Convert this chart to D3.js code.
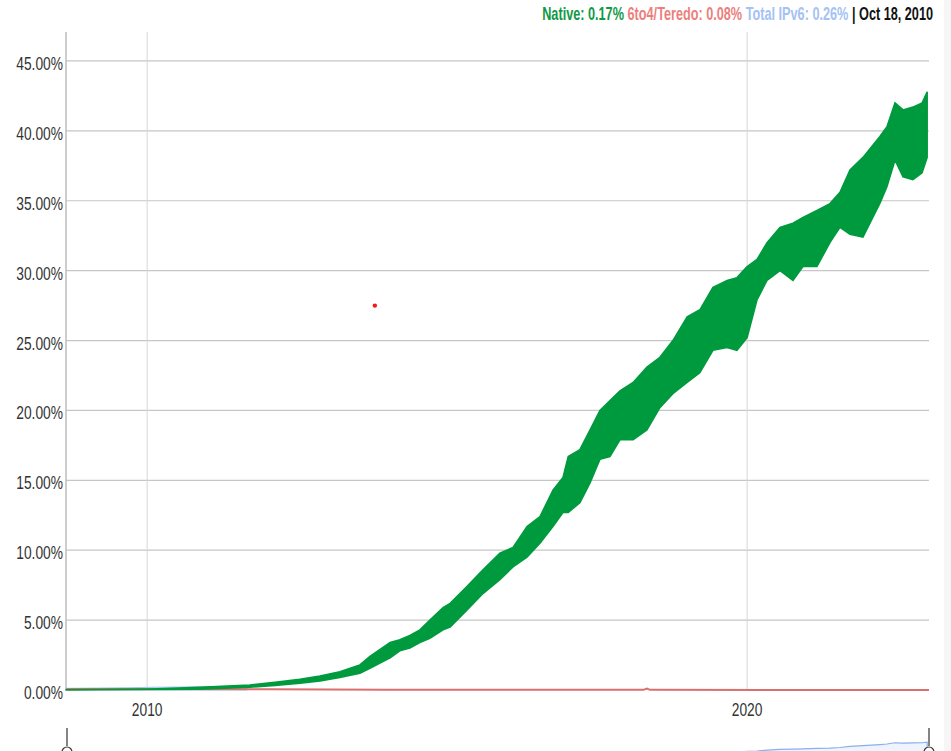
<!DOCTYPE html>
<html lang="en">

<head>
    <meta charset="UTF-8">
    <title>IPv6 adoption</title>
    <script src="https://d3js.org/d3.v7.min.js"></script>
    <style>
        body { margin: 0; background: #fff; }
        text { font-family: "Liberation Sans", Arial, sans-serif; }
    </style>
</head>

<body>
    <script>
        // native IPv6 share, min/max band of the daily values (percent)
        var dates = ["2008-08-26", "2009-03-19", "2010-01-19", "2010-11-18", "2011-09-18", "2012-02-18",
            "2012-07-19", "2012-11-18", "2013-03-19", "2013-07-19", "2013-09-18", "2014-01-19",
            "2014-03-19", "2014-05-19", "2014-07-19", "2014-09-18", "2014-12-07", "2015-01-19",
            "2015-05-01", "2015-08-07", "2015-11-18", "2016-02-06", "2016-05-01", "2016-07-19",
            "2016-10-06", "2016-12-06", "2017-01-07", "2017-03-19", "2017-05-19", "2017-07-19",
            "2017-09-18", "2017-11-18", "2018-02-06", "2018-05-01", "2018-07-19", "2018-10-06",
            "2019-01-01", "2019-03-19", "2019-06-07", "2019-09-01", "2019-10-31", "2020-01-01",
            "2020-03-01", "2020-05-01", "2020-07-19", "2020-10-06", "2020-12-06", "2021-03-01",
            "2021-05-19", "2021-07-19", "2021-09-18", "2021-12-06", "2022-03-19", "2022-05-01",
            "2022-06-19", "2022-08-07", "2022-10-06", "2022-12-01", "2023-01-01"]
        var nativeLow = [0.00, 0.01, 0.03, 0.05, 0.20, 0.32,
            0.48, 0.65, 0.90, 1.20, 1.55, 2.30,
            2.80, 3.00, 3.40, 3.70, 4.30, 4.50,
            5.70, 6.90, 7.90, 8.80, 9.50, 10.5,
            11.7, 12.7, 12.7, 13.4, 14.8, 16.5,
            16.7, 17.9, 17.9, 18.6, 20.2, 21.2,
            22.0, 22.7, 24.3, 24.5, 24.3, 25.2,
            27.9, 29.3, 30.0, 29.3, 30.3, 30.3,
            32.0, 33.1, 32.6, 32.4, 34.8, 36.0,
            37.9, 36.7, 36.5, 37.0, 38.1]
        var nativeHigh = [0.02, 0.03, 0.08, 0.20, 0.36, 0.55,
            0.77, 1.00, 1.30, 1.80, 2.40, 3.40,
            3.60, 3.90, 4.30, 5.00, 5.90, 6.20,
            7.40, 8.60, 9.80, 10.2, 11.7, 12.4,
            14.3, 15.2, 16.7, 17.2, 18.6, 20.0,
            20.7, 21.4, 22.0, 23.1, 23.8, 25.0,
            26.7, 27.2, 28.8, 29.3, 29.5, 30.3,
            30.8, 32.0, 33.1, 33.4, 33.8, 34.3,
            34.8, 35.6, 37.2, 38.1, 39.6, 40.3,
            42.0, 41.5, 41.7, 42.0, 42.8]

        // total IPv6, only visible above the green in the first years
        var totalDates = ["2008-08-26", "2009-03-01", "2009-09-01", "2010-03-01", "2010-09-01", "2011-03-01", "2011-09-01"]
        var totalHigh = [0.12, 0.14, 0.16, 0.2, 0.22, 0.25, 0.3]

        // 6to4/Teredo share
        var teredoDates = ["2008-08-26", "2010-01-01", "2012-01-01", "2014-01-01", "2018-04-10", "2018-05-01", "2018-05-20", "2023-01-12"]
        var teredoValues = [0.08, 0.08, 0.06, 0.02, 0.01, 0.1, 0.01, 0.0]
        var outlierDate = "2013-10-18", outlierValue = 27.5

        var yTicks = [0, 5, 10, 15, 20, 25, 30, 35, 40, 45]
        var xTicks = ["2010-01-01", "2020-01-01"]

        var headParts = ["Native: 0.17%", "6to4/Teredo: 0.08%", "Total IPv6: 0.26%", "| Oct 18, 2010"]
        var headColors = ["#0f9a45", "#ec7f7d", "#a4c2f4", "#111"]

        var W = 951, H = 751
        var m = { left: 66, right: 929, top: 33, bottom: 690 }
        var squeeze = 0.725

        var parseD = d3.timeParse("%Y-%m-%d")

        var svg = d3.select("body").append("svg")
            .attr("width", W)
            .attr("height", H)

        var x = d3.scaleTime()
            .domain([new Date(2008, 7, 25), new Date(2023, 0, 12)])
            .range([m.left, m.right])
        var y = d3.scaleLinear()
            .domain([0, 47])
            .range([m.bottom, m.top])

        // grid
        svg.append("g").selectAll("line")
            .data(yTicks.slice(1))
            .enter().append("line")
            .attr("x1", m.left).attr("x2", m.right)
            .attr("y1", d => y(d)).attr("y2", d => y(d))
            .attr("stroke", "#c6c6c6").attr("stroke-width", 1.2)
        svg.append("g").selectAll("line")
            .data(xTicks)
            .enter().append("line")
            .attr("x1", d => x(parseD(d))).attr("x2", d => x(parseD(d)))
            .attr("y1", m.top - 1).attr("y2", m.bottom)
            .attr("stroke", "#d6d6d6").attr("stroke-width", 1)
        svg.append("line")
            .attr("x1", m.left).attr("x2", m.left)
            .attr("y1", m.top - 1).attr("y2", m.bottom)
            .attr("stroke", "#bdbdbd").attr("stroke-width", 1.5)

        // series
        var nativeData = dates.map((d, i) => ({ date: parseD(d), lo: nativeLow[i], hi: nativeHigh[i] }))
        var totalData = totalDates.map((d, i) => ({ date: parseD(d), v: totalHigh[i] }))
        var teredoData = teredoDates.map((d, i) => ({ date: parseD(d), v: teredoValues[i] }))

        svg.append("path")
            .datum(totalData)
            .attr("d", d3.area().x(d => x(d.date)).y0(y(0)).y1(d => y(d.v)))
            .attr("fill", "#c9d9f5")
            .attr("stroke", "#a4c2f4").attr("stroke-width", 1)

        svg.append("path")
            .datum(teredoData)
            .attr("d", d3.line().x(d => x(d.date)).y(d => y(d.v)))
            .attr("fill", "none")
            .attr("stroke", "#d9706d").attr("stroke-width", 2)

        svg.append("path")
            .datum(nativeData)
            .attr("d", d3.area().x(d => x(d.date)).y0(d => y(d.lo)).y1(d => y(d.hi)))
            .attr("fill", "#009a3e")
            .attr("stroke", "#009a3e").attr("stroke-width", 1.5).attr("stroke-linejoin", "miter")

        svg.append("circle")
            .attr("cx", x(parseD(outlierDate)))
            .attr("cy", y(outlierValue))
            .attr("r", 2.2)
            .attr("fill", "#ee1c1c")

        // axis labels
        var labels = svg.append("g").attr("fill", "#333").attr("font-size", 19)
        labels.selectAll("text.y")
            .data(yTicks)
            .enter().append("text")
            .attr("class", "y")
            .attr("x", 63)
            .attr("y", d => y(d) + 9)
            .attr("text-anchor", "end")
            .text(d => d.toFixed(2) + "%")
        labels.selectAll("text.x")
            .data(xTicks)
            .enter().append("text")
            .attr("class", "x")
            .attr("x", d => x(parseD(d)))
            .attr("y", 716)
            .attr("text-anchor", "middle")
            .text(d => parseD(d).getFullYear())

        labels.selectAll("text").each(function () {
            var len = this.getComputedTextLength()
            d3.select(this).attr("textLength", len * squeeze).attr("lengthAdjust", "spacingAndGlyphs")
        })

        // header, laid out right to left inside a narrowed group
        var head = svg.append("g")
            .attr("transform", "translate(933,20) scale(" + squeeze + ",1)")
        var hx = 0
        for (var i = headParts.length - 1; i >= 0; i--) {
            var t = head.append("text")
                .attr("x", hx).attr("y", 0)
                .attr("text-anchor", "end")
                .attr("font-size", 17.5).attr("font-weight", "bold")
                .attr("fill", headColors[i])
                .text(headParts[i])
            hx -= t.node().getComputedTextLength() + 5
        }

        // navigator strip at the bottom
        var yNav = d3.scaleLinear().domain([0, 43]).range([774, 742])
        svg.append("path")
            .datum(nativeData)
            .attr("d", d3.area().x(d => x(d.date)).y0(H + 30).y1(d => yNav(d.hi)))
            .attr("fill", "#eef3fc")
            .attr("stroke", "#8ab0ec").attr("stroke-width", 1.2)
        ;[m.left + 1, m.right].forEach(function (px) {
            svg.append("line")
                .attr("x1", px).attr("x2", px)
                .attr("y1", 728).attr("y2", 746)
                .attr("stroke", "#333").attr("stroke-width", 1.2)
            svg.append("circle")
                .attr("cx", px).attr("cy", 752).attr("r", 5)
                .attr("fill", "#fff").attr("stroke", "#333").attr("stroke-width", 1.2)
        })

        svg.append("rect")
            .attr("x", 944).attr("y", 0).attr("width", 7).attr("height", H)
            .attr("fill", "#f6f6f6")
    </script>

</body>

</html>
